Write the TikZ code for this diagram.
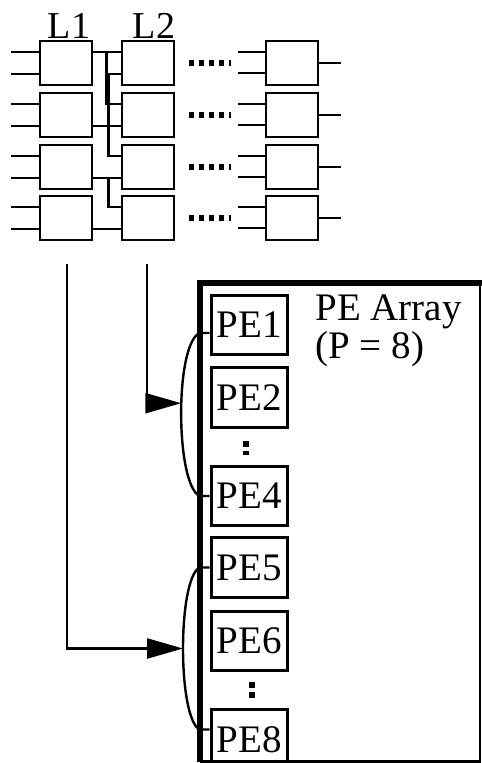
\documentclass[tikz,border=0pt]{standalone}
\usepackage{fontspec}
\setmainfont{Liberation Serif}
\usetikzlibrary{positioning, calc, arrows.meta}

\begin{document}
\begin{tikzpicture}[x=0.5pt, y=-0.5pt,
    cell/.style={draw, line width=1.4pt, minimum width=26pt, minimum height=22pt, inner sep=0pt},
    pe/.style={draw, line width=1.5pt, minimum width=38pt, minimum height=29.75pt, inner sep=0pt,
        font=\fontsize{19.5}{20}\selectfont},
    wire/.style={line width=1.2pt},
    feed/.style={line width=1.2pt, -{Triangle[length=18pt, width=10pt]}},
    hdots/.style={line width=2.8pt, dash pattern=on 2.5pt off 2.5pt},
    vdots/.style={line width=3pt, dash pattern=on 3pt off 2pt}]
    \useasboundingbox (0,0) rectangle (481,763);

    % level labels
    \node[anchor=base, font=\fontsize{19}{19}\selectfont, inner sep=0pt] (lab1) at (69,39) {L1};
    \node[anchor=base, font=\fontsize{19}{19}\selectfont, inner sep=0pt] (lab2) at (154,39) {L2};

    % cells of L1, L2 and the last level
    \foreach \r/\y in {1/63, 2/115, 3/167, 4/218} {
        \node[cell] (a\r) at (66,\y) {};
        \node[cell] (b\r) at (148,\y) {};
        \node[cell] (z\r) at (292,\y) {};
        % inputs of L1
        \draw[wire] ($(a\r.west)+(0,-11)$) -- ++(-28,0);
        \draw[wire] ($(a\r.west)+(0,11)$) -- ++(-28,0);
        % inputs and output of the last level
        \draw[wire] ($(z\r.west)+(0,-11)$) -- ++(-27,0);
        \draw[wire] ($(z\r.west)+(0,10)$) -- ++(-27,0);
        \draw[wire] (z\r.east) -- ++(22,0);
        % levels left out
        \draw[hdots] ($(b\r.east)+(14,0)$) -- ($(z\r.west)+(-34,0)$);
    }

    % L1 -> L2
    \draw[wire] ($(a1.east)+(0,-11)$) -- ($(b1.west)+(0,-11)$);
    \draw[line width=1.9pt] ($(a1.east)+(13,-11)$) -- ($(a1.east)+(13,40)$);
    \draw[wire] ($(a1.east)+(13,-11)$) |- ($(b2.west)+(0,-11)$);
    \draw[wire] ($(a2.east)+(0,11)$) -- ($(b2.west)+(0,11)$);
    \draw[wire] ($(b1.west)+(0,11)$) -- ++(-12,0) |- ($(b3.west)+(0,-11)$);
    \draw[wire] ($(a3.east)+(0,11)$) -- ($(b3.west)+(0,11)$);
    \draw[wire] ($(a3.east)+(0,11)$) ++(15,0) |- ($(b4.west)+(0,-11)$);
    \draw[wire] ($(a4.east)+(0,11)$) -- ($(b4.west)+(0,11)$);

    % PE array
    \node[draw, line width=0.8pt, minimum width=139.5pt, minimum height=238.5pt, anchor=north west,
        inner sep=0pt] (arr) at (200,283) {};
    \draw[line width=2.6pt] (arr.south west) -- (arr.north west) -- ($(arr.north east)+(2,0)$);
    \draw[line width=1.5pt] (arr.south west) -- (arr.south east);
    \node[anchor=north west, align=left, inner sep=0pt, font=\fontsize{19.5}{19}\selectfont]
        (lbl) at (315,294) {PE Array\\(P = 8)};

    \node[pe] (pe1) at (249,325) {PE1};
    \node[pe, below=5pt of pe1] (pe2) {PE2};
    \node[pe, below=18pt of pe2] (pe4) {PE4};
    \node[pe, below=4.5pt of pe4] (pe5) {PE5};
    \node[pe, below=5.5pt of pe5] (pe6) {PE6};
    \node[pe, below=18pt of pe6] (pe8) {PE8};
    \draw[vdots] ($(pe2.south)+(-3,12)$) -- ($(pe4.north)+(-3,-10)$);
    \draw[vdots] ($(pe6.south)+(3,10)$) -- ($(pe8.north)+(3,-10)$);

    % fan-out brackets
    \draw[wire] ($(pe1.west)+(0,8)$) -- ++(-10,0) .. controls +(-25,12) and +(-24,-12) ..
        coordinate[pos=0.45] (bra) ($(pe4.west)+(-10,0)$) -- (pe4.west);
    \draw[wire] (pe5.west) -- ++(-10,0) .. controls +(-22,12) and +(-22,-12) ..
        coordinate[pos=0.5] (brb) ($(pe8.west)+(-10,-10)$) -- ($(pe8.west)+(0,-10)$);

    % outputs of L1 and L2 to the PEs
    \coordinate (tapa) at ($(a4.south)+(1,23)$);
    \coordinate (tapb) at ($(b4.south)+(-1,23)$);
    \draw[feed] (tapb) |- (bra);
    \draw[feed] (tapa) |- (brb);
\end{tikzpicture}
\end{document}
